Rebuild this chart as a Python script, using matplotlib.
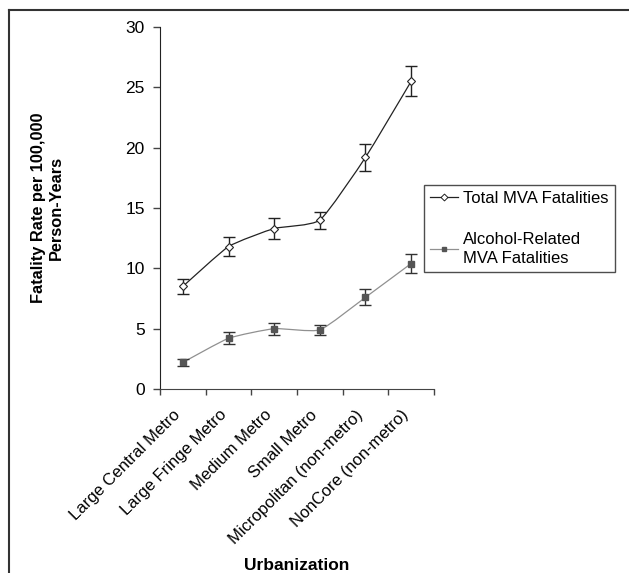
import matplotlib
matplotlib.use('Agg')
import matplotlib.pyplot as plt
import matplotlib.transforms as mtransforms
import numpy as np
from matplotlib.path import Path
from matplotlib.patches import PathPatch
from matplotlib.lines import Line2D

plt.rcParams['font.family'] = ['Liberation Sans', 'DejaVu Sans']

categories = ['Large Central Metro', 'Large Fringe Metro', 'Medium Metro',
              'Small Metro', 'Micropolitan (non-metro)', 'NonCore (non-metro)']
total_rate = [8.5, 11.8, 13.3, 14.0, 19.2, 25.5]
total_err = [0.65, 0.8, 0.85, 0.7, 1.1, 1.25]
alcohol_rate = [2.2, 4.2, 5.0, 4.9, 7.6, 10.4]
alcohol_err = [0.3, 0.5, 0.5, 0.4, 0.65, 0.8]


def smooth_path(x, y, k=12.0):
    # gently smoothed line: cubic bezier through every point
    pts = np.column_stack([x, y]).astype(float)
    n = len(pts)
    verts = [pts[0]]
    codes = [Path.MOVETO]
    for i in range(n - 1):
        p0 = pts[i - 1] if i > 0 else pts[i]
        p1 = pts[i]
        p2 = pts[i + 1]
        p3 = pts[i + 2] if i + 2 < n else pts[i + 1]
        c1 = p1 + (p2 - p0) / k
        c2 = p2 - (p3 - p1) / k
        verts += [c1, c2, p2]
        codes += [Path.CURVE4] * 3
    return Path(verts, codes)


fig = plt.figure(figsize=(6.29, 5.73), dpi=100)
ax = fig.add_axes([160 / 629, 1 - 389 / 573, 274 / 629, 362 / 573])

x = np.arange(len(categories)) + 0.5

ax.add_patch(PathPatch(smooth_path(x, total_rate), fill=False,
                       edgecolor='#222222', lw=0.9, zorder=2))
ax.add_patch(PathPatch(smooth_path(x, alcohol_rate), fill=False,
                       edgecolor='#909090', lw=0.9, zorder=2))

ax.errorbar(x, total_rate, yerr=total_err, fmt='none', ecolor='#222222',
            elinewidth=1.0, capsize=4, capthick=1.0, zorder=3)
ax.errorbar(x, alcohol_rate, yerr=alcohol_err, fmt='none', ecolor='#333333',
            elinewidth=1.0, capsize=4, capthick=1.0, zorder=3)
ax.plot(x, total_rate, ls='none', marker='D', ms=4.5, mfc='white',
        mec='#222222', mew=0.8, zorder=4)
ax.plot(x, alcohol_rate, ls='none', marker='s', ms=5, mfc='#555555',
        mec='#555555', zorder=4)

ax.set_xlim(0, len(categories))
ax.set_ylim(0, 30)
ax.set_yticks([0, 5, 10, 15, 20, 25, 30])
ax.set_xticks(np.arange(len(categories) + 1))
ax.set_xticklabels([])
ax.set_xticks(x, minor=True)
ax.set_xticklabels(categories, minor=True, rotation=45, ha='right',
                   rotation_mode='anchor', fontsize=12)
ax.tick_params(axis='x', which='minor', length=0, pad=8)
ax.tick_params(axis='x', which='major', direction='out', length=4,
               width=1, color='#444444')
ax.tick_params(axis='y', direction='out', length=5, width=1,
               color='#444444', labelsize=12.5, pad=6)

# nudge the slanted category labels left and down
shift = mtransforms.ScaledTranslation(-10 / 100, -7 / 100, fig.dpi_scale_trans)
for lab in ax.get_xticklabels(minor=True):
    lab.set_transform(lab.get_transform() + shift)

for s in ['top', 'right']:
    ax.spines[s].set_visible(False)
ax.spines['left'].set_color('#222222')
ax.spines['bottom'].set_color('#444444')

ax.set_ylabel('Fatality Rate per 100,000\nPerson-Years', fontsize=11.8,
              fontweight='bold', labelpad=44, linespacing=1.3)
fig.text(297 / 629, 1 - 565 / 573, 'Urbanization', fontsize=12.5,
         fontweight='bold', ha='center', va='center')

handles = [
    Line2D([], [], color='#222222', lw=0.9, marker='D', ms=3.5,
           mfc='white', mec='#222222', mew=0.7),
    Line2D([], [], color='#909090', lw=0.9, marker='s', ms=3.5,
           mfc='#555555', mec='#555555'),
]
leg = fig.legend(handles, ['Total MVA Fatalities', 'Alcohol-Related\nMVA Fatalities'],
                 loc='upper left', bbox_to_anchor=(424 / 629, 1 - 185 / 573),
                 frameon=True, fancybox=False, fontsize=12, handlelength=1.7,
                 handletextpad=0.3, labelspacing=1.55, borderpad=0.35,
                 borderaxespad=0)
for t in leg.get_texts():
    t.set_linespacing(1.35)
leg.get_frame().set_edgecolor('#222222')
leg.get_frame().set_linewidth(1.0)

# outer frame (top and left edges only)
fig.add_artist(Line2D([9 / 629, 1], [1 - 10 / 573, 1 - 10 / 573],
                      color='#333333', lw=1.5, transform=fig.transFigure))
fig.add_artist(Line2D([9 / 629, 9 / 629], [0, 1 - 10 / 573],
                      color='#333333', lw=1.5, transform=fig.transFigure))

fig.savefig('out.png', dpi=100)
